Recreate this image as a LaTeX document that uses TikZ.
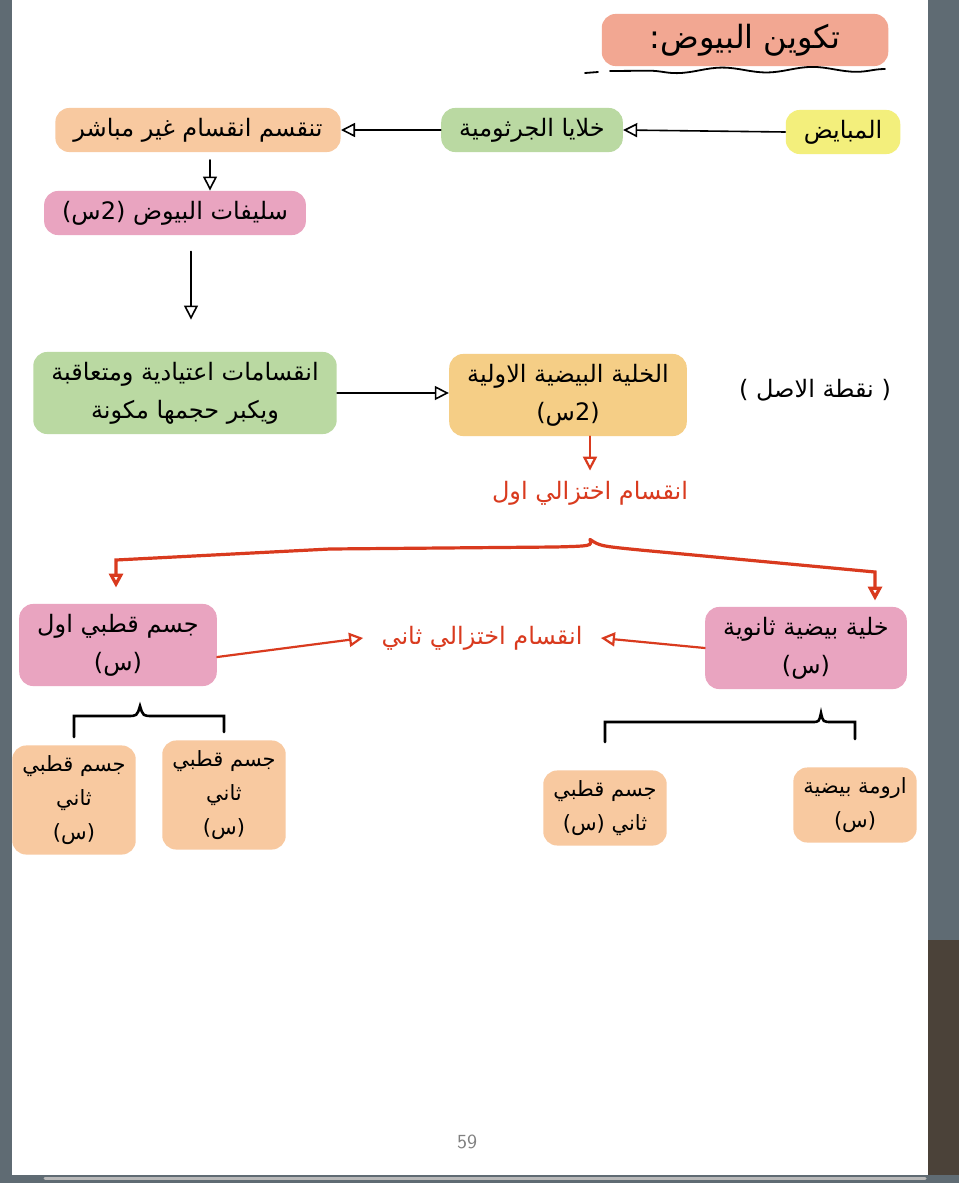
\documentclass[tikz,border=0pt]{standalone}
\usepackage{fontspec}
\usepackage{tikz}
\usetikzlibrary{arrows.meta,decorations.pathmorphing}
\TeXXeTstate=1
\newfontfamily\arabicfont[Script=Arabic]{DejaVu Sans}
\newcommand{\artext}[1]{\beginR #1\endR}
\definecolor{bgslate}{HTML}{5F6B73}
\definecolor{bgrock}{HTML}{4B4239}
\definecolor{hlsalmon}{HTML}{F2A792}
\definecolor{hlyellow}{HTML}{F3EF7C}
\definecolor{hlgreen}{HTML}{BAD9A2}
\definecolor{hlpeach}{HTML}{F8C9A0}
\definecolor{hlgold}{HTML}{F5CE86}
\definecolor{hlpink}{HTML}{E9A4C0}
\definecolor{penred}{HTML}{D93A1E}

\begin{document}
\begin{tikzpicture}[x=0.5pt, y=-0.5pt, >={Triangle[open, length=7pt, width=7pt]}, line cap=round,
  note/.style={font=\arabicfont\fontsize{12}{19}\selectfont, align=center, inner xsep=9pt, inner ysep=5pt, rounded corners=7pt},
  smallnote/.style={note, font=\arabicfont\fontsize{10.5}{17}\selectfont, inner xsep=5pt},
  rednote/.style={note, text=penred},
  blackarrow/.style={->, line width=0.8pt},
  redarrow/.style={->, draw=penred, line width=1.1pt},
  redbrace/.style={draw=penred, line width=1.6pt},
  bracket/.style={line width=1.3pt}]
% page and screen background
\fill[bgslate] (0,0) rectangle (959,1183);
\fill[bgrock] (928,940) rectangle (959,1175);
\fill[white] (12,0) rectangle (928,1175);
\draw[gray!55, line width=1.5pt] (45,1178) -- (925,1178);
\useasboundingbox (0,0) rectangle (959,1183);
% title
\node[note, fill=hlsalmon, font=\arabicfont\fontsize{16}{20}\selectfont, inner xsep=24pt] (title) at (745,40) {\artext{تكوين البيوض:}};
\draw[decorate, decoration={snake, amplitude=1.3pt, segment length=45pt}, line width=0.9pt] (885,69) -- (610,71);
\draw[line width=0.9pt] (585,73) -- (598,72);
% first row
\node[note, fill=hlyellow] (ovary) at (843,132) {\artext{المبايض}};
\node[note, fill=hlgreen] (germ) at (532,130) {\artext{خلايا الجرثومية}};
\node[note, fill=hlpeach] (divide) at (198,130) {\artext{تنقسم انقسام غير مباشر}};
\node[note, fill=hlpink] (oogonia) at (175,213) {\artext{سليفات البيوض (2س)}};
\node[note, fill=hlgreen] (mitosis) at (185,393) {\artext{انقسامات اعتيادية ومتعاقبة}\\\artext{ويكبر حجمها مكونة}};
\node[note, fill=hlgold] (primary) at (568,395) {\artext{الخلية البيضية الاولية}\\\artext{(2س)}};
\node[note] (origin) at (815,390) {\artext{( نقطة الاصل )}};
\node[rednote] (meiosis1) at (590,493) {\artext{انقسام اختزالي اول}};
% products of first division
\node[note, fill=hlpink] (polar1) at (118,645) {\artext{جسم قطبي اول}\\\artext{(س)}};
\node[note, fill=hlpink] (secondary) at (806,648) {\artext{خلية بيضية ثانوية}\\\artext{(س)}};
\node[rednote] (meiosis2) at (482,638) {\artext{انقسام اختزالي ثاني}};
% products of second division
\node[smallnote, fill=hlpeach] (polar2a) at (74,800) {\artext{جسم قطبي}\\\artext{ثاني}\\\artext{(س)}};
\node[smallnote, fill=hlpeach] (polar2b) at (224,795) {\artext{جسم قطبي}\\\artext{ثاني}\\\artext{(س)}};
\node[smallnote, fill=hlpeach] (polar2c) at (605,808) {\artext{جسم قطبي}\\\artext{ثاني (س)}};
\node[smallnote, fill=hlpeach] (ootid) at (855,805) {\artext{ارومة بيضية}\\\artext{(س)}};
\node[text=gray, font=\sffamily\fontsize{10}{12}\selectfont] (pagenum) at (467,1142) {59};
% arrows
\draw[blackarrow] (ovary.west) -- (germ.east);
\draw[blackarrow] (germ.west) -- (divide.east);
\coordinate (downone) at (210,160);
\draw[blackarrow] (downone) -- (downone |- oogonia.north);
\draw[blackarrow, shorten <=8pt, shorten >=16pt] ([xshift=8pt]oogonia.south) -- ([xshift=8pt]oogonia.south |- mitosis.north);
\draw[blackarrow] (mitosis.east) -- (mitosis.east -| primary.west);
\draw[redarrow] (meiosis1.north |- primary.south) -- (meiosis1.north);
\coordinate (brtip) at ([yshift=-12pt]meiosis1.south);
\coordinate (brleft) at (116,560);
\coordinate (brright) at (875,572);
\draw[redbrace, ->, shorten >=8pt] (brtip) .. controls (592,546) .. (555,547) -- (330,549) -- (brleft) -- (brleft |- polar1.north);
\draw[redbrace, ->, shorten >=3pt] (brtip) .. controls (600,546) .. (640,550) -- (brright) -- (brright |- secondary.north);
\draw[redarrow] (secondary.west) -- (meiosis2.east);
\draw[redarrow] ([yshift=-6pt]polar1.east) -- (meiosis2.west);
% brackets
\coordinate (leftfork) at (140,706);
\draw[bracket] ([yshift=4pt]polar2a.north) |- (127,716) .. controls (137,716) .. (leftfork) .. controls (143,716) .. (153,716) -| ([yshift=4pt]polar2b.north);
\coordinate (rightfork) at (821,713);
\draw[bracket] ([yshift=14pt]polar2c.north) |- (812,722) .. controls (819,722) .. (rightfork) .. controls (823,722) .. (832,722) -| ([yshift=14pt]ootid.north);
\end{tikzpicture}
\end{document}
